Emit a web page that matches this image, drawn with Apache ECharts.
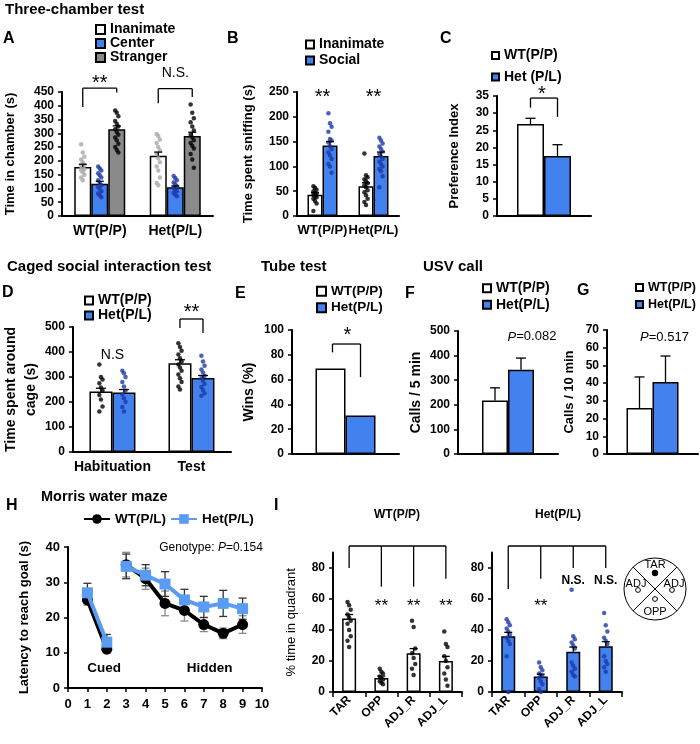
<!DOCTYPE html>
<html><head><meta charset="utf-8">
<script src="https://cdn.jsdelivr.net/npm/echarts@6/dist/echarts.min.js"></script>
<style>html,body{margin:0;padding:0;background:#fff}#c{width:700px;height:744px}</style>
</head><body><div id="c"></div>
<script>
// ---------------- DATA ----------------
// A: Three-chamber test, time in chamber (s)
const aCats = ['WT(P/P)', 'Het(P/L)'];
const aInanimate = [178, 219];
const aInanimateErr = [10, 13];
const aCenter = [117, 104];
const aCenterErr = [9, 5];
const aStranger = [315, 290];
const aStrangerErr = [12, 14];
const aInanimateDots = [[260, 230, 215, 205, 195, 185, 180, 175, 170, 165, 160, 150, 140, 130],
                        [298, 290, 278, 265, 250, 238, 225, 210, 195, 180, 165, 140, 120, 112]];
const aCenterDots = [[180, 172, 165, 155, 148, 140, 130, 120, 112, 105, 98, 90, 82, 75, 68],
                     [145, 138, 130, 122, 115, 108, 102, 96, 90, 84, 78, 72]];
const aStrangerDots = [[383, 375, 362, 345, 335, 325, 315, 305, 295, 285, 275, 262, 250, 240, 230],
                       [405, 375, 355, 340, 325, 310, 295, 285, 275, 265, 255, 245, 225, 205, 175]];
// B: time spent sniffing (s)
const bCats = ['WT(P/P)', 'Het(P/L)'];
const bInanimate = [43, 60];
const bInanimateErr = [4, 7];
const bSocial = [142, 121];
const bSocialErr = [8, 8];
const bInanimateDots = [[60, 57, 53, 50, 47, 45, 43, 40, 38, 35, 30, 25, 10],
                        [126, 82, 78, 74, 70, 66, 62, 58, 52, 48, 42, 35, 28, 22]];
const bSocialDots = [[207, 187, 180, 170, 155, 152, 148, 140, 135, 128, 122, 115, 105, 100, 87],
                     [158, 152, 146, 140, 135, 130, 125, 120, 115, 110, 105, 100, 95, 90, 80, 58]];
// C: preference index
const cGroups = ['WT(P/P)', 'Het (P/L)'];
const cValues = [26.8, 17.5];
const cErr = [1.7, 3.3];
// D: caged social interaction
const dCats = ['Habituation', 'Test'];
const dWT = [242, 355];
const dWTErr = [13, 14];
const dHet = [238, 296];
const dHetErr = [12, 10];
const dWTDots = [[350, 300, 290, 275, 258, 245, 228, 210, 182, 162],
                 [435, 420, 405, 390, 375, 362, 350, 338, 325, 310, 295, 280, 262, 250]];
const dHetDots = [[325, 315, 300, 280, 262, 245, 230, 215, 200, 180, 162],
                  [385, 362, 345, 330, 318, 305, 295, 285, 272, 260, 248, 235, 225]];
// E: tube test wins (%)
const eGroups = ['WT(P/P)', 'Het(P/L)'];
const eWins = [69, 31];
// F: USV calls / 5 min
const fGroups = ['WT(P/P)', 'Het(P/L)'];
const fCalls = [217, 342];
const fErr = [52, 48];
// G: calls / 10 min
const gGroups = ['WT(P/P)', 'Het(P/L)'];
const gCalls = [26, 40.6];
const gErr = [17.5, 14.7];
// H: Morris water maze latency (s)
const hDays = [1, 2, 3, 4, 5, 6, 7, 8, 9];
const hWT = [25, 11, 35, 31, 24, 22, 18, 15.5, 18];
const hWTErr = [1.5, 1, 3.5, 3, 3.5, 3, 2, 1.5, 2.5];
const hHet = [27, 13, 34.5, 32, 29.5, 25, 23, 24, 22.5];
const hHetErr = [2.7, 2.2, 3.5, 3, 3.5, 3, 3, 3.7, 3];
// I: % time in quadrant
const iCats = ['TAR', 'OPP', 'ADJ_R', 'ADJ_L'];
const iWT = [47.5, 9, 25, 20];
const iWTErr = [2.5, 1.3, 3, 3];
const iHet = [36, 10, 26, 29.5];
const iHetErr = [2.5, 1.5, 3, 3];
const iWTDots = [[58, 56, 53, 50, 48, 46, 44, 40, 36, 33, 29],
                 [15, 13, 12, 10, 9, 8, 7, 6, 5],
                 [46, 42, 28, 25, 22, 18, 15, 11],
                 [39, 31, 29, 23, 20, 16, 12, 8, 4]];
const iHetDots = [[47, 45, 43, 41, 39, 37, 35, 33, 31, 23, 0],
                  [19, 16, 14, 12, 11, 10, 9, 7, 5, 2, 0],
                  [66, 36, 34, 32, 30, 28, 19, 17, 15, 13, 11, 10],
                  [51, 43, 39, 35, 33, 31, 23, 20, 18, 16, 13]];
const iWTTicks = [0, 20, 40, 60, 80];

// ---------------- STYLE ----------------
const FONT = 'Liberation Sans';
const WHITE = '#ffffff', BLUE = '#4282ef', GRAY = '#8a8a8a';
const DOTBLUE = '#1d3aa6', DOTGRAY = '#a9a9a9';
const HBLUE = '#5a9cf4';

const grids = [
  {left: 61, top: 92, width: 152, height: 124},     // 0 A
  {left: 297, top: 92, width: 102, height: 124},    // 1 B
  {left: 497, top: 96, width: 94, height: 120},     // 2 C
  {left: 71, top: 327, width: 160, height: 125},    // 3 D
  {left: 292, top: 330, width: 107, height: 124},   // 4 E
  {left: 458, top: 331, width: 100, height: 123},   // 5 F
  {left: 607, top: 330, width: 91, height: 124},    // 6 G
  {left: 68, top: 547, width: 194, height: 141},    // 7 H
  {left: 333, top: 552.5, width: 129, height: 139.5}, // 8 I WT
  {left: 492, top: 552.5, width: 130, height: 139.5}  // 9 I Het
];

function yAx(gi, max, interval, name, nameGap, fs, nfs, extra) {
  return Object.assign({
    type: 'value', gridIndex: gi, min: 0, max: max, interval: interval,
    name: name, nameLocation: 'middle', nameRotate: 90, nameGap: nameGap,
    nameTextStyle: {fontFamily: FONT, fontSize: nfs, fontWeight: 'bold', color: '#000', lineHeight: nfs + 6},
    axisLine: {show: true, lineStyle: {color: '#000', width: 2}},
    axisTick: {show: true, length: 4, lineStyle: {color: '#000', width: 1.5}},
    axisLabel: {fontFamily: FONT, fontSize: fs, fontWeight: 'bold', color: '#000', margin: 8},
    splitLine: {show: false}
  }, extra || {});
}
function xCat(gi, data, fs, extra) {
  return Object.assign({
    type: 'category', gridIndex: gi, data: data,
    axisLine: {show: true, lineStyle: {color: '#000', width: 2}},
    axisTick: {show: false},
    axisLabel: {show: fs > 0, interval: 0, fontFamily: FONT, fontSize: fs || 12, fontWeight: 'bold', color: '#000', margin: 8}
  }, extra || {});
}
function bar(gi, name, vals, color, w) {
  return {type: 'bar', name: name, xAxisIndex: gi, yAxisIndex: gi, data: vals, barWidth: w, barGap: '0%',
    itemStyle: {color: color, borderColor: '#000', borderWidth: 1.5}, z: 2, silent: true};
}
function dots(gi, groups, off, color) {
  const data = [];
  groups.forEach((arr, c) => arr.forEach((v, i) => data.push({value: [c, v], symbolOffset: [off + ((i % 3) - 1) * 1.6, 0]})));
  return {type: 'scatter', xAxisIndex: gi, yAxisIndex: gi, data: data, symbolSize: 4.5,
    itemStyle: {color: color}, z: 4, silent: true};
}
function errs(gi, xs, vals, e, off, cap, color, both, lw) {
  return {type: 'custom', xAxisIndex: gi, yAxisIndex: gi, z: 5, silent: true,
    encode: {x: 0, y: 1},
    data: vals.map((v, i) => [xs[i], v, e[i]]),
    renderItem: function (params, api) {
      const x = api.value(0), v = api.value(1), d = api.value(2);
      const p = api.coord([x, v]);
      const pt = api.coord([x, v + d]);
      const pb = both ? api.coord([x, v - d]) : p;
      const cx = p[0] + off;
      const st = {stroke: color, lineWidth: lw || 1.3};
      const ch = [
        {type: 'line', shape: {x1: cx, y1: pb[1], x2: cx, y2: pt[1]}, style: st},
        {type: 'line', shape: {x1: cx - cap, y1: pt[1], x2: cx + cap, y2: pt[1]}, style: st}
      ];
      if (both) ch.push({type: 'line', shape: {x1: cx - cap, y1: pb[1], x2: cx + cap, y2: pb[1]}, style: st});
      return {type: 'group', children: ch};
    }};
}
const idx2 = [0, 1], idx4 = [0, 1, 2, 3];

const legendText = (fs, lh) => ({fontFamily: FONT, fontSize: fs, fontWeight: 'bold', color: '#000', lineHeight: lh});
function legendV(left, top, names, icon, fs, lh, gap) {
  return {orient: 'vertical', left: left, top: top, padding: 0, itemGap: gap, itemWidth: icon, itemHeight: icon,
    icon: 'rect', selectedMode: false, data: names, textStyle: legendText(fs, lh)};
}

const option = {
  animation: false,
  backgroundColor: '#fff',
  textStyle: {fontFamily: FONT},
  grid: grids,
  legend: [
    legendV(95, 22.5, ['Inanimate', 'Center', 'Stranger'], 9, 14, 13.7, 0),
    legendV(305, 36.5, ['Inanimate', 'Social'], 8, 14, 16, 0),
    legendV(491, 48.5, cGroups, 7, 14, 14, 7.5),
    legendV(84, 293, ['WT(P/P)', 'Het(P/L)'], 8, 14, 15, 0),
    legendV(316, 283, ['WT(P/P)', 'Het(P/L)'], 9, 13.5, 16.5, 0),
    legendV(482, 280, ['WT(P/P)', 'Het(P/L)'], 8, 14, 16.5, 0),
    legendV(635, 279, ['WT(P/P)', 'Het(P/L)'], 7, 12.5, 17, 0),
    {orient: 'horizontal', left: 83, top: 512, padding: 0, itemGap: 4, itemWidth: 26, itemHeight: 12,
      selectedMode: false, data: ['WT(P/L)', 'Het(P/L) '], textStyle: legendText(13.5, 14)}
  ],
  xAxis: [
    xCat(0, aCats, 14),
    xCat(1, bCats, 13),
    xCat(2, ['C'], 0),
    xCat(3, dCats, 14),
    xCat(4, ['E'], 0),
    xCat(5, ['F'], 0),
    xCat(6, ['G'], 0),
    {type: 'value', gridIndex: 7, min: 0, max: 10, interval: 1,
      axisLine: {show: true, onZero: false, lineStyle: {color: '#000', width: 2}},
      axisTick: {show: true, length: 4, lineStyle: {color: '#000', width: 1.5}},
      axisLabel: {fontFamily: FONT, fontSize: 13, fontWeight: 'bold', color: '#000', margin: 10},
      splitLine: {show: false}},
    xCat(8, iCats, 12, {axisTick: {show: true, length: 5, interval: 0, lineStyle: {color: '#000', width: 1.5}},
      axisLabel: {interval: 0, rotate: 45, fontFamily: FONT, fontSize: 12, fontWeight: 'bold', color: '#000', margin: 6}}),
    xCat(9, iCats, 12, {axisTick: {show: true, length: 5, interval: 0, lineStyle: {color: '#000', width: 1.5}},
      axisLabel: {interval: 0, rotate: 45, fontFamily: FONT, fontSize: 12, fontWeight: 'bold', color: '#000', margin: 6}})
  ],
  yAxis: [
    yAx(0, 450, 50, 'Time in chamber (s)', 42, 12, 13),
    yAx(1, 250, 50, 'Time spent sniffing (s)', 39, 12, 13),
    yAx(2, 35, 5, 'Preference Index', 33, 12, 13),
    yAx(3, 500, 100, 'Time spent around\ncage (s)', 25, 12, 14),
    yAx(4, 100, 20, 'Wins (%)', 33, 12, 14),
    yAx(5, 500, 100, 'Calls / 5 min', 32, 12, 14),
    yAx(6, 70, 10, 'Calls / 10 min', 28, 12, 13),
    yAx(7, 40, 10, 'Latency to reach goal (s)', 34, 13, 13),
    yAx(8, 90, 20, '% time in quadrant', 35, 12, 13, {
      nameTextStyle: {fontFamily: FONT, fontSize: 13, fontWeight: 'normal', color: '#000'},
      axisTick: {show: true, length: 4, customValues: iWTTicks, lineStyle: {color: '#000', width: 1.5}},
      axisLabel: {customValues: iWTTicks, fontFamily: FONT, fontSize: 12, fontWeight: 'bold', color: '#000', margin: 8}}),
    yAx(9, 90, 20, '', 35, 12, 13, {
      axisTick: {show: true, length: 4, customValues: iWTTicks, lineStyle: {color: '#000', width: 1.5}},
      axisLabel: {customValues: iWTTicks, fontFamily: FONT, fontSize: 12, fontWeight: 'bold', color: '#000', margin: 8}})
  ],
  series: [
    // A
    bar(0, 'Inanimate', aInanimate, WHITE, 17),
    bar(0, 'Center', aCenter, BLUE, 17),
    bar(0, 'Stranger', aStranger, GRAY, 17),
    // B
    bar(1, 'Inanimate', bInanimate, WHITE, 15),
    bar(1, 'Social', bSocial, BLUE, 15),
    // C
    bar(2, cGroups[0], [cValues[0]], WHITE, 27),
    bar(2, cGroups[1], [cValues[1]], BLUE, 27),
    // D
    bar(3, 'WT(P/P)', dWT, WHITE, 23),
    bar(3, 'Het(P/L)', dHet, BLUE, 23),
    // E
    bar(4, eGroups[0], [eWins[0]], WHITE, 30),
    bar(4, eGroups[1], [eWins[1]], BLUE, 30),
    // F
    bar(5, fGroups[0], [fCalls[0]], WHITE, 26),
    bar(5, fGroups[1], [fCalls[1]], BLUE, 26),
    // G
    bar(6, gGroups[0], [gCalls[0]], WHITE, 26),
    bar(6, gGroups[1], [gCalls[1]], BLUE, 26),
    // I
    bar(8, 'WT(P/P)', iWT, WHITE, 14),
    bar(9, 'Het(P/L)', iHet, BLUE, 14),
    // dots
    dots(0, aInanimateDots, -17, DOTGRAY),
    dots(0, aCenterDots, 0, DOTBLUE),
    dots(0, aStrangerDots, 17, '#000'),
    dots(1, bInanimateDots, -7.5, '#000'),
    dots(1, bSocialDots, 7.5, DOTBLUE),
    dots(3, dWTDots, -11.5, '#000'),
    dots(3, dHetDots, 11.5, DOTBLUE),
    dots(8, iWTDots, 0, '#000'),
    dots(9, iHetDots, 0, DOTBLUE),
    // error bars
    errs(0, idx2, aInanimate, aInanimateErr, -17, 4, '#000'),
    errs(0, idx2, aCenter, aCenterErr, 0, 4, '#000'),
    errs(0, idx2, aStranger, aStrangerErr, 17, 4, '#000'),
    errs(1, idx2, bInanimate, bInanimateErr, -7.5, 4, '#000'),
    errs(1, idx2, bSocial, bSocialErr, 7.5, 4, '#000'),
    errs(2, [0], [cValues[0]], [cErr[0]], -13.5, 5, '#000'),
    errs(2, [0], [cValues[1]], [cErr[1]], 13.5, 5, '#000'),
    errs(3, idx2, dWT, dWTErr, -11.5, 5, '#000'),
    errs(3, idx2, dHet, dHetErr, 11.5, 5, '#000'),
    errs(5, [0], [fCalls[0]], [fErr[0]], -13, 5, '#000'),
    errs(5, [0], [fCalls[1]], [fErr[1]], 13, 5, '#000'),
    errs(6, [0], [gCalls[0]], [gErr[0]], -13, 5, '#000'),
    errs(6, [0], [gCalls[1]], [gErr[1]], 13, 5, '#000'),
    errs(8, idx4, iWT, iWTErr, 0, 4, '#000'),
    errs(9, idx4, iHet, iHetErr, 0, 4, '#000'),
    errs(7, hDays, hWT, hWTErr, 0, 4, '#8a8a8a', true, 1.3),
    errs(7, hDays, hHet, hHetErr, 0, 4, '#333', true, 1.3),
    // H lines
    {type: 'line', name: 'WT(P/L)', xAxisIndex: 7, yAxisIndex: 7, z: 6, silent: true,
      data: hDays.slice(0, 2).map((d, i) => [d, hWT[i]]),
      symbol: 'circle', symbolSize: 11, itemStyle: {color: '#000'}, lineStyle: {color: '#000', width: 4}},
    {type: 'line', name: 'WT(P/L)', xAxisIndex: 7, yAxisIndex: 7, z: 6, silent: true,
      data: hDays.slice(2).map((d, i) => [d, hWT[i + 2]]),
      symbol: 'circle', symbolSize: 11, itemStyle: {color: '#000'}, lineStyle: {color: '#000', width: 4}},
    {type: 'line', name: 'Het(P/L) ', xAxisIndex: 7, yAxisIndex: 7, z: 7, silent: true,
      data: hDays.slice(0, 2).map((d, i) => [d, hHet[i]]),
      symbol: 'rect', symbolSize: 11, itemStyle: {color: HBLUE}, lineStyle: {color: HBLUE, width: 4}},
    {type: 'line', name: 'Het(P/L) ', xAxisIndex: 7, yAxisIndex: 7, z: 7, silent: true,
      data: hDays.slice(2).map((d, i) => [d, hHet[i + 2]]),
      symbol: 'rect', symbolSize: 11, itemStyle: {color: HBLUE}, lineStyle: {color: HBLUE, width: 4}}
  ]
};

const chart = echarts.init(document.getElementById('c'), null, {renderer: 'canvas'});
chart.setOption(option);

// ---------------- ANNOTATIONS (in data coordinates) ----------------
const brackets = [
  {g: 0, a: [0, -17, 396], b: [0, 17, 448], top: 464},
  {g: 0, a: [1, -17, 409], b: [1, 17, 432], top: 462},
  {g: 2, a: [0, -13.5, 31.6], b: [0, 13.5, 28.9], top: 34.4},
  {g: 3, a: [1, -11.5, 496], b: [1, 11.5, 476], top: 532},
  {g: 4, a: [0, -13, 82], b: [0, 15, 62], top: 88.7}
];
const combs = [
  {g: 8, legs: [[0, 80], [1, 68], [2, 68], [3, 73]], top: 94.2},
  {g: 9, legs: [[0, 66.5], [1, 73], [2, 80], [3, 80]], top: 94.2}
];
const sig = [
  {g: 0, x: 0, off: 0, v: 500, t: '**', fs: 20},
  {g: 0, x: 1, off: 0, v: 518, t: 'N.S.', fs: 14},
  {g: 1, x: 0, off: 0, v: 250, t: '**', fs: 20},
  {g: 1, x: 1, off: 0, v: 250, t: '**', fs: 20},
  {g: 2, x: 0, off: -2, v: 36.8, t: '*', fs: 20},
  {g: 3, x: 0, off: 0, v: 388, t: 'N.S', fs: 14},
  {g: 3, x: 1, off: 0, v: 580, t: '**', fs: 20},
  {g: 4, x: 0, off: 2, v: 100, t: '*', fs: 20},
  {g: 8, x: 1, off: 0, v: 58, t: '**', fs: 17},
  {g: 8, x: 2, off: 0, v: 58, t: '**', fs: 17},
  {g: 8, x: 3, off: 0, v: 58, t: '**', fs: 17},
  {g: 9, x: 1, off: 0, v: 58, t: '**', fs: 17},
  {g: 9, x: 2, off: 0, v: 72, t: 'N.S.', fs: 12, fw: 'bold'},
  {g: 9, x: 3, off: 0, v: 72, t: 'N.S.', fs: 12, fw: 'bold'}
];
const pLabels = [
  {g: 5, x: 0, off: 24, v: 476, t: '0.082'},
  {g: 6, x: 0, off: 12, v: 66, t: '0.517'}
];
const hNotes = [
  {x: 1.86, v: 5.7, t: 'Cued'},
  {x: 7.3, v: 5.7, t: 'Hidden'}
];
const hGenotype = {x: 4.7, v: 39.7, t: '0.154'};

const G = [];
const P = (g, x, y) => chart.convertToPixel({gridIndex: g}, [x, y]);
function L(x1, y1, x2, y2, w, c) {
  G.push({type: 'line', silent: true, z: 10, shape: {x1: x1, y1: y1, x2: x2, y2: y2}, style: {stroke: c || '#000', lineWidth: w || 1.3}});
}
function T(x, y, t, fs, fw, align, va, extra) {
  G.push({type: 'text', silent: true, z: 10, x: x, y: y, style: Object.assign({text: t, fontSize: fs, fontWeight: fw || 'normal',
    fontFamily: FONT, fill: '#000', align: align || 'center', verticalAlign: va || 'middle'}, extra || {})});
}
brackets.forEach(b => {
  const pa = P(b.g, b.a[0], b.top), pb = P(b.g, b.b[0], b.top);
  const xa = pa[0] + b.a[1], xb = pb[0] + b.b[1], yt = pa[1];
  L(xa, yt, xb, yt);
  L(xa, yt, xa, P(b.g, b.a[0], b.a[2])[1]);
  L(xb, yt, xb, P(b.g, b.b[0], b.b[2])[1]);
});
combs.forEach(c => {
  const p0 = P(c.g, c.legs[0][0], c.top), p1 = P(c.g, c.legs[c.legs.length - 1][0], c.top);
  L(p0[0], p0[1], p1[0], p1[1]);
  c.legs.forEach(l => { const q = P(c.g, l[0], c.top); L(q[0], q[1], q[0], P(c.g, l[0], l[1])[1]); });
});
sig.forEach(s => {
  const p = P(s.g, s.x, s.v);
  const dy = s.t.indexOf('*') >= 0 ? s.fs * 0.25 : 0;
  T(p[0] + s.off, p[1] + dy, s.t, s.fs, s.fw || 'normal');
});
const rich = {i: {fontStyle: 'italic', fontFamily: FONT, fontSize: 13}, n: {fontFamily: FONT, fontSize: 13}};
pLabels.forEach(s => {
  const p = P(s.g, s.x, s.v);
  T(p[0] + s.off, p[1], '{i|P}{n|=' + s.t + '}', 13, 'normal', 'center', 'middle', {rich: rich});
});
hNotes.forEach(n => { const p = P(7, n.x, n.v); T(p[0], p[1], n.t, 13.5, 'bold'); });
(function () {
  const p = P(7, hGenotype.x, hGenotype.v);
  const r2 = {i: {fontStyle: 'italic', fontFamily: FONT, fontSize: 12}, n: {fontFamily: FONT, fontSize: 12}};
  T(p[0], p[1], '{n|Genotype: }{i|P}{n|=' + hGenotype.t + '}', 12, 'normal', 'left', 'middle', {rich: r2});
})();

// titles and panel letters (layout)
T(5, 2, 'Three-chamber test', 15, 'bold', 'left', 'top');
T(7, 259, 'Caged social interaction test', 15, 'bold', 'left', 'top');
T(261, 259, 'Tube test', 15, 'bold', 'left', 'top');
T(423, 259, 'USV call', 15, 'bold', 'left', 'top');
T(41, 489, 'Morris water maze', 14.5, 'bold', 'left', 'top');
[['A', 3, 31], ['B', 227, 31], ['C', 440, 31], ['D', 2, 285], ['E', 235, 286], ['F', 405, 286],
 ['G', 577, 283], ['H', 6, 498], ['I', 274, 498]].forEach(l => T(l[1], l[2], l[0], 16, 'bold', 'left', 'top'));
T(397, 515, 'WT(P/P)', 12, 'bold');
T(558, 515, 'Het(P/L)', 12, 'bold');

// quadrant diagram (inset illustration)
const cx = 655, cy = 589, r = 31, d = r * Math.SQRT1_2;
G.push({type: 'circle', silent: true, shape: {cx: cx, cy: cy, r: r}, style: {fill: '#fff', stroke: '#000', lineWidth: 1}});
L(cx - d, cy - d, cx + d, cy + d, 1);
L(cx + d, cy - d, cx - d, cy + d, 1);
T(cx, cy - 24, 'TAR', 11);
T(cx, cy + 23, 'OPP', 11);
T(cx - 19, cy - 5, 'ADJ', 11);
T(cx + 19, cy - 5, 'ADJ', 11);
G.push({type: 'circle', silent: true, shape: {cx: cx, cy: cy - 16, r: 3.2}, style: {fill: '#000'}});
[[cx, cy + 10], [cx - 17, cy + 1], [cx + 17, cy + 1]].forEach(q =>
  G.push({type: 'circle', silent: true, shape: {cx: q[0], cy: q[1], r: 2.4}, style: {fill: '#fff', stroke: '#000', lineWidth: 1}}));

chart.setOption({graphic: G});
</script>
</body></html>
